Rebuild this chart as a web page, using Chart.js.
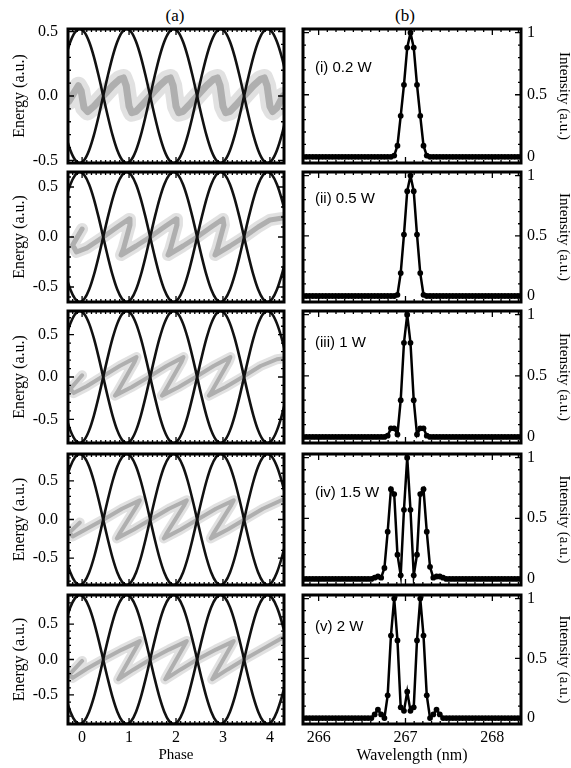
<!DOCTYPE html>
<html>
<head>
<meta charset="utf-8">
<script src="https://cdn.jsdelivr.net/npm/chart.js@4.4.1/dist/chart.umd.min.js"></script>
<style>
  body { margin: 0; background: #fff; width: 571px; height: 768px; position: relative; overflow: hidden; font-family: "Liberation Serif", serif; }
  canvas { position: absolute; }
  .colTitle { position: absolute; font-size: 17px; transform: translate(-50%, -50%); color: #000; }
</style>
</head>
<body>
<div class="colTitle" style="left:175px; top:16px;">(a)</div>
<div class="colTitle" style="left:405px; top:16px;">(b)</div>
<script>
// ---------- data ----------
const powers = ['(i) 0.2 W', '(ii) 0.5 W', '(iii) 1 W', '(iv) 1.5 W', '(v) 2 W'];

// half height of the separatrix in each panel (a.u.)
const bandAmp = [0.52, 0.65, 0.78, 0.85, 0.91];

// separatrix shape (normalised), sampled along phase
const sepPhase = [-0.35, -0.25, -0.15, -0.05, 0.05, 0.15, 0.25, 0.35, 0.45, 0.55,
  0.65, 0.75, 0.85, 0.95, 1.05, 1.15, 1.25, 1.35, 1.45, 1.55,
  1.65, 1.75, 1.85, 1.95, 2.05, 2.15, 2.25, 2.35, 2.45, 2.55,
  2.65, 2.75, 2.85, 2.95, 3.05, 3.15, 3.25, 3.35, 3.45, 3.55,
  3.65, 3.75, 3.85, 3.95, 4.05, 4.15, 4.25, 4.35];
const sepShape = [0.588, 0.809, 0.951, 1, 0.951, 0.809, 0.588, 0.309, 0, -0.309,
  -0.588, -0.809, -0.951, -1, -0.951, -0.809, -0.588, -0.309, 0, 0.309,
  0.588, 0.809, 0.951, 1, 0.951, 0.809, 0.588, 0.309, 0, -0.309,
  -0.588, -0.809, -0.951, -1, -0.951, -0.809, -0.588, -0.309, 0, 0.309,
  0.588, 0.809, 0.951, 1, 0.951, 0.809, 0.588, 0.309];

// electron distribution (phase, energy) traced through each panel
const band1 = [[-0.28,-0.04],[-0.18,0.02],[-0.08,0.08],[-0.02,0.04],[0.04,-0.09],[0.12,-0.12],[0.25,-0.08],[0.45,0],
  [0.65,0.08],[0.8,0.13],[0.88,0.14],[0.94,0.08],[1.0,-0.08],[1.06,-0.13],[1.15,-0.12],[1.28,-0.07],[1.45,0],
  [1.65,0.08],[1.8,0.13],[1.88,0.14],[1.94,0.08],[2.0,-0.08],[2.06,-0.13],[2.15,-0.12],[2.28,-0.07],[2.45,0],
  [2.65,0.08],[2.8,0.13],[2.88,0.14],[2.94,0.08],[3.0,-0.08],[3.06,-0.13],[3.15,-0.12],[3.28,-0.07],[3.45,0],
  [3.65,0.08],[3.8,0.13],[3.88,0.14],[3.94,0.08],[4.0,-0.08],[4.06,-0.12],[4.15,-0.09],[4.28,0.0]];
const band2 = [[0.0,0.08],[-0.2,-0.08],[-0.12,-0.15],[0.1,-0.11],[0.45,0],[0.75,0.1],[1.0,0.18],[1.02,0.12],[0.88,-0.12],[0.83,-0.18],
  [1.15,-0.09],[1.45,0],[1.75,0.1],[2.0,0.18],[2.02,0.12],[1.88,-0.12],[1.83,-0.18],
  [2.15,-0.09],[2.45,0],[2.75,0.1],[3.0,0.18],[3.02,0.12],[2.88,-0.12],[2.83,-0.18],
  [3.15,-0.09],[3.45,0],[3.75,0.1],[4.0,0.17],[4.27,0.19]];
const band3 = [[0.0,0.02],[-0.25,-0.14],[-0.18,-0.19],[0.1,-0.11],[0.42,0],[0.8,0.13],[1.16,0.235],[1.12,0.18],[0.75,-0.18],[0.7,-0.22],
  [1.05,-0.12],[1.42,0],[1.8,0.13],[2.16,0.235],[2.12,0.18],[1.75,-0.18],[1.7,-0.22],
  [2.05,-0.12],[2.42,0],[2.8,0.13],[3.16,0.235],[3.12,0.18],[2.75,-0.18],[2.7,-0.22],
  [3.05,-0.12],[3.42,0],[3.8,0.13],[4.15,0.21],[4.28,0.22]];
const band4 = [[-0.05,-0.04],[-0.27,-0.17],[-0.2,-0.22],[0.1,-0.12],[0.46,0],[0.85,0.14],[1.23,0.25],[1.18,0.19],[0.79,-0.19],[0.74,-0.245],
  [1.1,-0.13],[1.46,0],[1.85,0.14],[2.23,0.25],[2.18,0.19],[1.79,-0.19],[1.74,-0.245],
  [2.1,-0.13],[2.46,0],[2.85,0.14],[3.23,0.25],[3.18,0.19],[2.79,-0.19],[2.74,-0.245],
  [3.1,-0.13],[3.46,0],[3.85,0.14],[4.28,0.26]];
const band5 = [[0.0,-0.02],[-0.28,-0.22],[-0.2,-0.26],[0.1,-0.13],[0.45,0],[0.85,0.14],[1.23,0.26],[1.18,0.2],[0.82,-0.22],[0.77,-0.28],
  [1.1,-0.14],[1.45,0],[1.85,0.14],[2.23,0.26],[2.18,0.2],[1.82,-0.22],[1.77,-0.28],
  [2.1,-0.14],[2.45,0],[2.85,0.14],[3.23,0.26],[3.18,0.2],[2.82,-0.22],[2.77,-0.28],
  [3.1,-0.14],[3.45,0],[3.85,0.15],[4.25,0.3]];
const bands = [band1, band2, band3, band4, band5];

// spectrometer wavelength samples (nm)
const wavelength = [265.8200, 265.8575, 265.8950, 265.9325, 265.9700, 266.0075, 266.0450, 266.0825, 266.1200, 266.1575,
  266.1950, 266.2325, 266.2700, 266.3075, 266.3450, 266.3825, 266.4200, 266.4575, 266.4950, 266.5325,
  266.5700, 266.6075, 266.6450, 266.6825, 266.7200, 266.7575, 266.7950, 266.8325, 266.8700, 266.9075,
  266.9450, 266.9825, 267.0200, 267.0575, 267.0950, 267.1325, 267.1700, 267.2075, 267.2450, 267.2825,
  267.3200, 267.3575, 267.3950, 267.4325, 267.4700, 267.5075, 267.5450, 267.5825, 267.6200, 267.6575,
  267.6950, 267.7325, 267.7700, 267.8075, 267.8450, 267.8825, 267.9200, 267.9575, 267.9950, 268.0325,
  268.0700, 268.1075, 268.1450, 268.1825, 268.2200, 268.2575, 268.2950, 268.3325];

const spec1 = [0,0,0,0,0,0,0,0,0,0, 0,0,0,0,0,0,0,0,0,0,
  0,0,0,0,0,0,0,0,0.01,0.09, 0.33,0.58,0.88,1.0,0.88,0.58,0.33,0.09,0.01,0,
  0,0,0,0,0,0,0,0,0,0, 0,0,0,0,0,0,0,0,0,0, 0,0,0,0,0,0,0,0];
const spec2 = [0,0,0,0,0,0,0,0,0,0, 0,0,0,0,0,0,0,0,0,0,
  0,0,0,0,0,0,0,0,0,0.01, 0.19,0.51,0.87,1.0,0.87,0.51,0.19,0.01,0,0,
  0,0,0,0,0,0,0,0,0,0, 0,0,0,0,0,0,0,0,0,0, 0,0,0,0,0,0,0,0];
const spec3 = [0,0,0,0,0,0,0,0,0,0, 0,0,0,0,0,0,0,0,0,0,
  0,0,0,0,0,0,0.01,0.07,0.07,0.02, 0.30,0.77,1.0,0.77,0.30,0.02,0.07,0.07,0.01,0,
  0,0,0,0,0,0,0,0,0,0, 0,0,0,0,0,0,0,0,0,0, 0,0,0,0,0,0,0,0];
const spec4 = [0,0,0,0,0,0,0,0,0,0, 0,0,0,0,0,0,0,0,0,0,
  0,0,0.01,0.02,0.01,0.09,0.39,0.74,0.70,0.20, 0.03,0.57,1.0,0.57,0.03,0.20,0.70,0.74,0.39,0.10,
  0.01,0.02,0.02,0.01,0,0,0,0,0,0, 0,0,0,0,0,0,0,0,0,0, 0,0,0,0,0,0,0,0];
const spec5 = [0,0,0,0,0,0,0,0,0,0, 0,0,0,0,0,0,0,0,0,0,
  0,0,0.03,0.07,0.03,0,0.19,0.69,1.0,0.65, 0.09,0.06,0.22,0.06,0.09,0.65,1.0,0.69,0.19,0,
  0.03,0.07,0.03,0,0,0,0,0,0,0, 0,0,0,0,0,0,0,0,0,0, 0,0,0,0,0,0,0,0];
const spectra = [spec1, spec2, spec3, spec4, spec5];

const phaseTicks = [0, 1, 2, 3, 4];
const energyTicks = [-0.5, 0, 0.5];
const wlTicks = [266, 267, 268];
const intensityTicks = [0, 0.5, 1];

// ---------- layout / styles ----------
const rowTop = [29, 172, 311, 454, 595];
const rowBottom = [163, 302, 443, 585, 724];
const labelDy = [39, 27, 32, 39, 32];
const bandOuter = [18, 12, 10, 10, 10];
const bandInner = [7, 5, 4, 4, 4];
const PAD = 22;
const serif = '"Liberation Serif", "Times New Roman", serif';

Chart.defaults.font.family = serif;
Chart.defaults.color = '#000';

// frame with inward ticks on all four sides, plus the panel label
const framePlugin = {
  id: 'frame',
  afterDatasetsDraw(chart, args, opts) {
    const {ctx, chartArea: a, scales: {x, y}} = chart;
    ctx.save();
    ctx.strokeStyle = '#000';
    ctx.lineWidth = 1.3;
    ctx.beginPath();
    const tx = (v, len) => {
      const p = x.getPixelForValue(v);
      ctx.moveTo(p, a.top); ctx.lineTo(p, a.top + len);
      ctx.moveTo(p, a.bottom); ctx.lineTo(p, a.bottom - len);
    };
    const ty = (v, len) => {
      const p = y.getPixelForValue(v);
      ctx.moveTo(a.left, p); ctx.lineTo(a.left + len, p);
      ctx.moveTo(a.right, p); ctx.lineTo(a.right - len, p);
    };
    for (let i = Math.ceil(x.min / opts.xMinor - 1e-6); i * opts.xMinor <= x.max + 1e-6; i++) tx(i * opts.xMinor, 3);
    for (let i = Math.ceil(y.min / opts.yMinor - 1e-6); i * opts.yMinor <= y.max + 1e-6; i++) ty(i * opts.yMinor, 3);
    opts.xMajor.forEach(v => tx(v, 6));
    opts.yMajor.forEach(v => ty(v, 6));
    ctx.stroke();
    ctx.lineWidth = 3;
    ctx.strokeRect(a.left, a.top, a.right - a.left, a.bottom - a.top);
    if (opts.label) {
      ctx.fillStyle = '#000';
      ctx.font = '15px "Liberation Sans", Arial, sans-serif';
      ctx.textBaseline = 'middle';
      ctx.fillText(opts.label, a.left + 12, a.top + opts.labelDy);
    }
    ctx.restore();
  }
};

function makeCanvas(left, top, width, height) {
  const c = document.createElement('canvas');
  c.width = width; c.height = height;
  c.style.left = left + 'px'; c.style.top = top + 'px';
  document.body.appendChild(c);
  return c.getContext('2d');
}

function baseOptions(padding) {
  return {
    responsive: false, animation: false, events: [],
    layout: {padding},
    plugins: {legend: {display: false}, tooltip: {enabled: false}}
  };
}

for (let r = 0; r < 5; r++) {
  const last = r === 4;
  const top = rowTop[r] - PAD;
  const height = last ? 768 - top : rowBottom[r] - rowTop[r] + 2 * PAD;
  const amp = bandAmp[r];
  const pts = bands[r].map(([x, y]) => ({x, y}));

  // ----- left column: phase space -----
  const optsA = baseOptions({top: PAD, bottom: last ? 0 : PAD, left: 0, right: 16});
  optsA.plugins.frame = {xMajor: phaseTicks, xMinor: 0.1, yMajor: energyTicks, yMinor: 0.1};
  optsA.scales = {
    x: {
      type: 'linear', min: -0.3, max: 4.3, display: last,
      afterBuildTicks: s => { s.ticks = phaseTicks.map(v => ({value: v})); },
      afterFit: last ? (s => { s.height = 44; }) : undefined,
      grid: {display: false, drawTicks: false}, border: {display: false},
      ticks: {padding: 4, font: {family: serif, size: 16}, callback: v => String(v)},
      title: {display: true, text: 'Phase', font: {family: serif, size: 15}, padding: {top: 0, bottom: 4}}
    },
    y: {
      type: 'linear', min: -amp, max: amp,
      afterBuildTicks: s => { s.ticks = energyTicks.map(v => ({value: v})); },
      afterFit: s => { s.width = 68; },
      grid: {display: false, drawTicks: false}, border: {display: false},
      ticks: {padding: 10, font: {family: serif, size: 16}, callback: v => v.toFixed(1)},
      title: {display: true, text: 'Energy (a.u.)', font: {family: serif, size: 16}, padding: {top: 10, bottom: 0}}
    }
  };
  new Chart(makeCanvas(0, top, 300, height), {
    type: 'line',
    data: {
      datasets: [
        {data: sepPhase.map((x, i) => ({x, y: amp * sepShape[i]})), borderColor: '#111', borderWidth: 2.6,
          pointRadius: 0, cubicInterpolationMode: 'monotone'},
        {data: sepPhase.map((x, i) => ({x, y: -amp * sepShape[i]})), borderColor: '#111', borderWidth: 2.6,
          pointRadius: 0, cubicInterpolationMode: 'monotone'},
        {data: pts, borderColor: 'rgba(125,125,125,0.5)', borderWidth: bandInner[r], pointRadius: 0,
          tension: 0, borderJoinStyle: 'round', borderCapStyle: 'round'},
        {data: pts, borderColor: 'rgba(195,195,195,0.5)', borderWidth: bandOuter[r], pointRadius: 0,
          tension: 0, borderJoinStyle: 'round', borderCapStyle: 'round'}
      ]
    },
    options: optsA,
    plugins: [framePlugin]
  });

  // ----- right column: spectra -----
  const optsB = baseOptions({top: PAD, bottom: last ? 0 : PAD, left: 13, right: 0});
  optsB.plugins.frame = {xMajor: wlTicks, xMinor: 0.1, yMajor: intensityTicks, yMinor: 0.1,
    label: powers[r], labelDy: labelDy[r]};
  optsB.scales = {
    x: {
      type: 'linear', min: 265.82, max: 268.33, display: last,
      afterBuildTicks: s => { s.ticks = wlTicks.map(v => ({value: v})); },
      afterFit: last ? (s => { s.height = 44; }) : undefined,
      grid: {display: false, drawTicks: false}, border: {display: false},
      ticks: {padding: 4, font: {family: serif, size: 16}, callback: v => String(v)},
      title: {display: true, text: 'Wavelength (nm)', font: {family: serif, size: 16}, padding: {top: 0, bottom: 3}}
    },
    y: {
      type: 'linear', position: 'right', min: -0.05, max: 1.03,
      afterBuildTicks: s => { s.ticks = intensityTicks.map(v => ({value: v})); },
      afterFit: s => { s.width = 50; },
      grid: {display: false, drawTicks: false}, border: {display: false},
      ticks: {padding: 6, font: {family: serif, size: 16}, callback: v => String(v)},
      title: {display: true, text: 'Intensity (a.u.)', font: {family: serif, size: 15, lineHeight: 1}, padding: 0}
    }
  };
  new Chart(makeCanvas(290, top, 281, height), {
    type: 'line',
    data: {
      datasets: [{
        data: wavelength.map((x, i) => ({x, y: spectra[r][i]})),
        borderColor: '#000', borderWidth: 2.5, tension: 0,
        pointRadius: 2.9, pointBackgroundColor: '#000', pointBorderWidth: 0
      }]
    },
    options: optsB,
    plugins: [framePlugin]
  });
}
</script>
</body>
</html>
